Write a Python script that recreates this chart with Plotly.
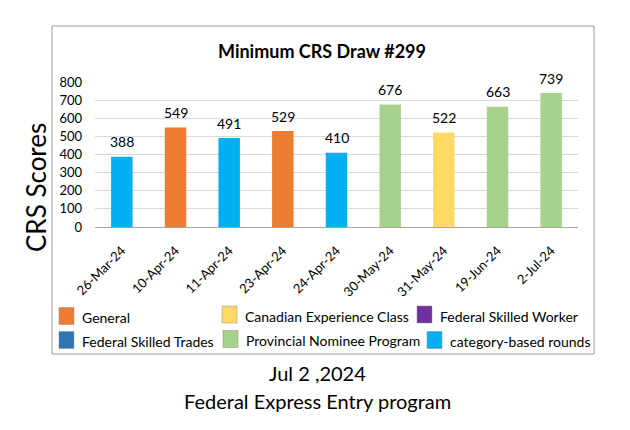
import plotly.graph_objects as go

# ---- data ----
dates = ["26-Mar-24", "10-Apr-24", "11-Apr-24", "23-Apr-24", "24-Apr-24",
         "30-May-24", "31-May-24", "19-Jun-24", "2-Jul-24"]
scores = [388, 549, 491, 529, 410, 676, 522, 663, 739]
draw_type = ["category-based rounds", "General", "category-based rounds", "General",
             "category-based rounds", "Provincial Nominee Program",
             "Canadian Experience Class", "Provincial Nominee Program",
             "Provincial Nominee Program"]

programs = ["General", "Canadian Experience Class", "Federal Skilled Worker",
            "Federal Skilled Trades", "Provincial Nominee Program", "category-based rounds"]
program_colors = {
    "General": "#ED7D31",
    "Canadian Experience Class": "#FFD966",
    "Federal Skilled Worker": "#7030A0",
    "Federal Skilled Trades": "#2E75B6",
    "Provincial Nominee Program": "#A9D18E",
    "category-based rounds": "#00B0F0",
}
y_ticks = [0, 100, 200, 300, 400, 500, 600, 700, 800]

FONT = "Lato, Calibri, Carlito, 'Noto Sans', sans-serif"

# ---- plot-area geometry (pixels) ----
W, H = 630, 430
L, R, T, B = 95, 578, 82, 227


def px_x(p):
    return (p - L) / (R - L)


def px_y(p):
    return (B - p) / (B - T)


fig = go.Figure()
for prog in programs:
    xs = [d for d, t in zip(dates, draw_type) if t == prog]
    ys = [s for s, t in zip(scores, draw_type) if t == prog]
    if not xs:
        continue
    fig.add_trace(go.Bar(
        x=xs, y=ys, name=prog, marker_color=program_colors[prog],
        marker_line_width=0, width=0.4, showlegend=False, hoverinfo="x+y+name",
    ))


def label(text, x, y, size, angle=0, xanchor="center"):
    return dict(text=text, xref="paper", yref="paper", x=px_x(x), y=px_y(y),
                xanchor=xanchor, yanchor="middle", textangle=angle, showarrow=False,
                font=dict(size=size, color="#000000", family=FONT))


# value labels above bars (data coordinates)
annotations = [dict(x=d, y=s, xref="x", yref="y", text=str(s), showarrow=False,
                    xanchor="center", yanchor="middle", yshift=15,
                    font=dict(size=14, color="#000000", family=FONT))
               for d, s in zip(dates, scores)]

shapes = [dict(type="rect", xref="paper", yref="paper",
               x0=px_x(52), x1=px_x(594), y0=px_y(354), y1=px_y(26),
               line=dict(color="#9A9A9A", width=1), fillcolor="rgba(0,0,0,0)",
               layer="below")]
annotations += [
    label("<b>Minimum CRS Draw #299</b>", 322, 51, 18),
    label("CRS Scores", 36, 188, 26, angle=-90),
    label("Jul 2 ,2024", 317, 373, 20),
    label("Federal Express Entry program", 317, 401, 20),
]

# custom legend: 2 rows x 3 columns
legend_pos = {
    "General": (59, 316),
    "Canadian Experience Class": (222, 314.5),
    "Federal Skilled Worker": (417, 314.5),
    "Federal Skilled Trades": (59, 340),
    "Provincial Nominee Program": (223, 339),
    "category-based rounds": (427, 340),
}
for prog in programs:
    sx, sy = legend_pos[prog]
    shapes.append(dict(type="rect", xref="paper", yref="paper",
                       x0=px_x(sx), x1=px_x(sx + 15), y0=px_y(sy + 8.5), y1=px_y(sy - 8.5),
                       fillcolor=program_colors[prog], line=dict(color="#8C8C8C", width=0.5)))
    annotations.append(label(prog, sx + 21, sy + 1.5, 14, xanchor="left"))

fig.update_layout(
    width=W, height=H,
    margin=dict(l=L, r=W - R, t=T, b=H - B, pad=0),
    paper_bgcolor="#FFFFFF", plot_bgcolor="#FFFFFF",
    barmode="overlay",
    showlegend=False,
    font=dict(family=FONT, color="#000000"),
    xaxis=dict(type="category", categoryorder="array", categoryarray=dates,
               tickangle=-45, tickfont=dict(size=13, color="#000000"),
               showline=True, linecolor="#A6A6A6", linewidth=1,
               showgrid=False, ticks="", ticklabelstandoff=10, fixedrange=True),
    yaxis=dict(range=[0, 800], tickvals=y_ticks, tickfont=dict(size=13, color="#000000"),
               showgrid=True, gridcolor="#D9D9D9", gridwidth=1, zeroline=False,
               showline=False, ticks="", ticklabelstandoff=12, fixedrange=True),
    shapes=shapes,
    annotations=annotations,
)

fig.write_html("out.html", config={"displayModeBar": False},
               post_script="document.body.style.margin='0';")
